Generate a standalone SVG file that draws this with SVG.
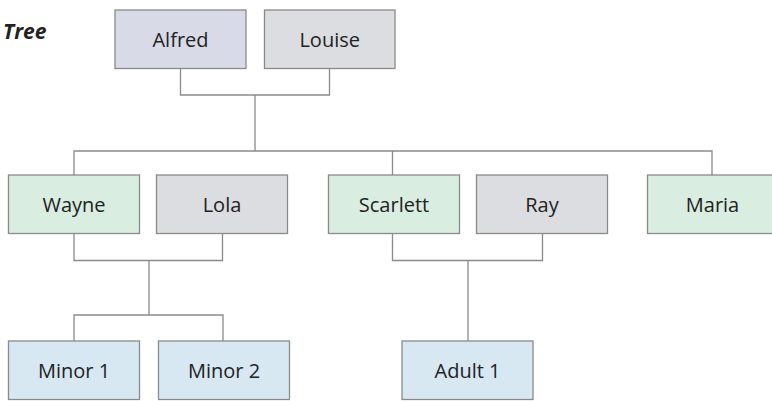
<svg xmlns="http://www.w3.org/2000/svg" width="772" height="401" viewBox="0 0 772 401">
<style>
.box{stroke:#8a8a8a;stroke-width:1.3}
.p{fill:#d9dae8}.g{fill:#dcdde0}.m{fill:#d9ede1}.b{fill:#d7e8f3}
.t{font-family:"Open Sans","Liberation Sans",sans-serif;font-size:20px;fill:#222;text-anchor:middle}
.c{fill:none;stroke:#8a8a8a;stroke-width:1.3}
</style>
<rect width="772" height="401" fill="#fff"/>
<text x="3" y="39" font-family="'Open Sans','Liberation Sans',sans-serif" font-size="21" font-weight="bold" font-style="italic" fill="#222">Tree</text>
<g id="connectors">
<path class="c" d="M180.5 68.5V95H329.5V68.5M255 95V151M74 175V151H712V175M392.5 151V175"/>
<path class="c" d="M74 233.5V260.5H222.5V233.5M149 260.5V315M74 341V315H223V341"/>
<path class="c" d="M392.5 233.5V260.5H542.5V233.5M468 260.5V341"/>
</g>
<g id="alfred"><rect class="box p" x="115" y="10" width="131" height="58.5"/><text class="t" x="180.5" y="46.5">Alfred</text></g>
<g id="louise"><rect class="box g" x="264.5" y="10" width="130.5" height="58.5"/><text class="t" x="329.7" y="46.5">Louise</text></g>
<g id="wayne"><rect class="box m" x="8.5" y="175" width="131" height="58.5"/><text class="t" x="74" y="211.5">Wayne</text></g>
<g id="lola"><rect class="box g" x="156.5" y="175" width="131" height="58.5"/><text class="t" x="222" y="211.5">Lola</text></g>
<g id="scarlett"><rect class="box m" x="328.5" y="175" width="131" height="58.5"/><text class="t" x="394" y="211.5">Scarlett</text></g>
<g id="ray"><rect class="box g" x="476.5" y="175" width="131" height="58.5"/><text class="t" x="542" y="211.5">Ray</text></g>
<g id="maria"><rect class="box m" x="647.5" y="175" width="131" height="58.5"/><text class="t" x="712.5" y="211.5">Maria</text></g>
<g id="minor1"><rect class="box b" x="8.5" y="341" width="131" height="58.5"/><text class="t" x="74" y="377.5">Minor 1</text></g>
<g id="minor2"><rect class="box b" x="158.5" y="341" width="131" height="58.5"/><text class="t" x="224" y="377.5">Minor 2</text></g>
<g id="adult1"><rect class="box b" x="402" y="341" width="131" height="58.5"/><text class="t" x="467.5" y="377.5">Adult 1</text></g>
</svg>
